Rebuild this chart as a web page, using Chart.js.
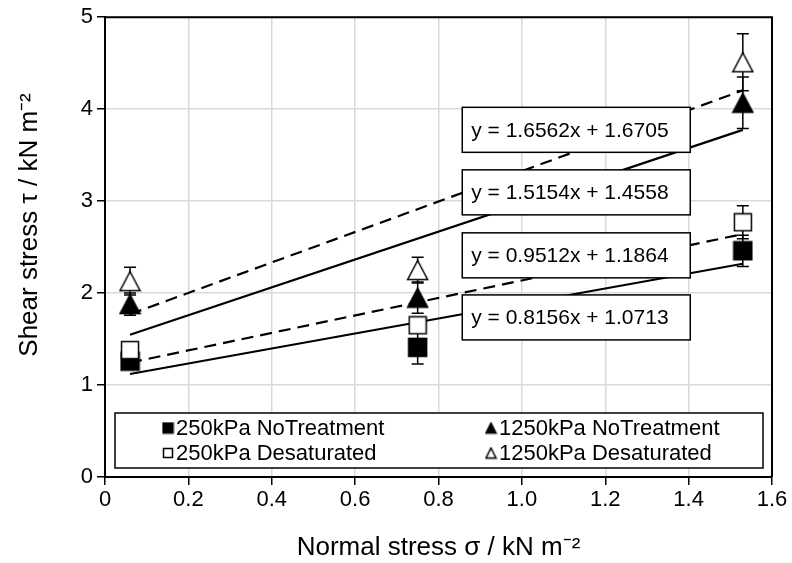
<!DOCTYPE html>
<html>
<head>
<meta charset="utf-8">
<script src="https://cdn.jsdelivr.net/npm/chart.js@4.4.1/dist/chart.umd.min.js"></script>
<style>
  html, body { margin:0; padding:0; background:#fff; }
  #wrap { width:792px; height:563px; }
</style>
</head>
<body>
<div id="wrap"><canvas id="chart" width="792" height="563"></canvas></div>
<script>
// valores (tensão normal x tensão de corte)
const normalStress = [0.06, 0.75, 1.53];

const nt250 = [1.26, 1.41, 2.46];
const nt250Err = [0.05, 0.18, 0.17];
const nt1250 = [1.88, 1.95, 4.07];
const nt1250Err = [0.12, 0.17, 0.28];
const de250 = [1.38, 1.65, 2.77];
const de250Err = [0.06, 0.08, 0.18];
const de1250 = [2.13, 2.25, 4.51];
const de1250Err = [0.15, 0.14, 0.31];

// linhas de tendência (y = a x + b)
const trendSlopes = [1.6562, 1.5154, 0.9512, 0.8156];
const trendIntercepts = [1.6705, 1.4558, 1.1864, 1.0713];
const trendLabels = ["y = 1.6562x + 1.6705", "y = 1.5154x + 1.4558", "y = 0.9512x + 1.1864", "y = 0.8156x + 1.0713"];

const seriesNames = ["250kPa NoTreatment", "1250kPa NoTreatment", "250kPa Desaturated", "1250kPa Desaturated"];
const xTickLabels = ["0", "0.2", "0.4", "0.6", "0.8", "1.0", "1.2", "1.4", "1.6"];
const yTickLabels = ["0", "1", "2", "3", "4", "5"];
const xTitle = "Normal stress σ / kN m⁻²";
const yTitle = "Shear stress τ / kN m⁻²";

const FONT = "'Liberation Sans', Arial, sans-serif";

function marker(shape, filled, w, h){
  const c = document.createElement("canvas");
  c.width = w + 3; c.height = h + 3;
  const g = c.getContext("2d");
  g.lineWidth = 1.5;
  g.strokeStyle = "#000";
  g.fillStyle = filled ? "#000" : "#fff";
  g.beginPath();
  if (shape === "tri"){
    g.moveTo(1.5 + w/2, 1.5);
    g.lineTo(1.5 + w, 1.5 + h);
    g.lineTo(1.5, 1.5 + h);
    g.closePath();
  } else {
    g.rect(1.5, 1.5, w, h);
  }
  g.fill(); g.stroke();
  return c;
}

const mk = {
  sqF: marker("sq", true, 18, 18),
  sqO: marker("sq", false, 17, 17),
  triF: marker("tri", true, 20, 19),
  triO: marker("tri", false, 20, 19)
};
const mkSmall = {
  sqF: marker("sq", true, 10, 10),
  sqO: marker("sq", false, 9, 9),
  triF: marker("tri", true, 10, 10),
  triO: marker("tri", false, 10, 10)
};

const pts = (ys)=> normalStress.map((x,i)=>({ x, y: ys[i] }));
const trend = (k)=> [normalStress[0], normalStress[normalStress.length-1]].map(x=>({ x, y: trendSlopes[k]*x + trendIntercepts[k] }));

const scatter = [
  { ys: nt250, err: nt250Err, style: mk.sqF, small: mkSmall.sqF, order: 3 },
  { ys: nt1250, err: nt1250Err, style: mk.triF, small: mkSmall.triF, order: 1 },
  { ys: de250, err: de250Err, style: mk.sqO, small: mkSmall.sqO, order: 2 },
  { ys: de1250, err: de1250Err, style: mk.triO, small: mkSmall.triO, order: 0 }
];

const datasets = [];
// tracejado = dessaturado, cheio = sem tratamento
[0,1,2,3].forEach(k=>{
  datasets.push({
    type: "line", label: "trend" + k, data: trend(k),
    borderColor: "#000", borderWidth: 2.2,
    borderDash: (k === 0 || k === 2) ? [12, 7] : [],
    pointRadius: 0, fill: false, order: 10
  });
});
scatter.forEach((s,i)=>{
  datasets.push({
    type: "scatter", label: seriesNames[i], data: pts(s.ys),
    pointStyle: s.style, pointRadius: 10, order: s.order
  });
});

const extras = {
  id: "extras",
  beforeDatasetsDraw(chart){
    const { ctx, chartArea: a, scales: { x, y } } = chart;
    ctx.save();
    ctx.strokeStyle = "#000";
    ctx.lineWidth = 2;
    ctx.beginPath();
    ctx.moveTo(a.left, a.top); ctx.lineTo(a.right, a.top); ctx.lineTo(a.right, a.bottom);
    ctx.stroke();
    // barras de erro
    ctx.lineWidth = 1.5;
    scatter.forEach(s=>{
      normalStress.forEach((xv,i)=>{
        const px = x.getPixelForValue(xv);
        const y1 = y.getPixelForValue(s.ys[i] + s.err[i]);
        const y2 = y.getPixelForValue(s.ys[i] - s.err[i]);
        ctx.beginPath();
        ctx.moveTo(px, y1); ctx.lineTo(px, y2);
        ctx.moveTo(px-6, y1); ctx.lineTo(px+6, y1);
        ctx.moveTo(px-6, y2); ctx.lineTo(px+6, y2);
        ctx.stroke();
      });
    });
    ctx.restore();
  },
  afterDatasetsDraw(chart){
    const { ctx, scales: { x, y } } = chart;
    ctx.save();
    // caixas das equações
    const left = x.getPixelForValue(0.857), w = 228, h = 45;
    const tops = [4.02, 3.34, 2.655, 1.98];
    ctx.font = "21px " + FONT;
    ctx.textBaseline = "middle";
    trendLabels.forEach((t,k)=>{
      const top = y.getPixelForValue(tops[k]);
      ctx.fillStyle = "#fff";
      ctx.fillRect(left, top, w, h);
      ctx.strokeStyle = "#000"; ctx.lineWidth = 1.5;
      ctx.strokeRect(left, top, w, h);
      ctx.fillStyle = "#000";
      ctx.fillText(t, left + 9, top + h/2 + 1);
    });
    // legenda
    const lx = 115, ly = 413, lw = 648, lh = 55;
    ctx.fillStyle = "#fff";
    ctx.fillRect(lx, ly, lw, lh);
    ctx.strokeStyle = "#000"; ctx.lineWidth = 1.5;
    ctx.strokeRect(lx, ly, lw, lh);
    ctx.font = "22px " + FONT;
    const cols = [168, 491], rows = [428, 453];
    scatter.forEach((s,i)=>{
      const cx = cols[i % 2], cy = rows[Math.floor(i / 2)];
      ctx.drawImage(s.small, cx - s.small.width/2, cy - s.small.height/2);
      ctx.fillStyle = "#000";
      ctx.fillText(seriesNames[i], cx + 8, cy + 1);
    });
    // título do eixo y (um pouco acima do centro, como no original)
    ctx.translate(30, 225);
    ctx.rotate(-Math.PI/2);
    ctx.font = "26px " + FONT;
    ctx.textAlign = "center";
    ctx.fillText(yTitle, 0, 0);
    ctx.restore();
  }
};

new Chart(document.getElementById("chart"), {
  data: { datasets },
  options: {
    responsive: false,
    animation: false,
    devicePixelRatio: 1,
    layout: { padding: { top: 17, right: 20, left: 0, bottom: 0 } },
    plugins: { legend: { display: false }, tooltip: { enabled: false } },
    scales: {
      x: {
        type: "linear", min: 0, max: 1.6,
        ticks: { stepSize: 0.2, color: "#000", font: { size: 22, family: FONT }, padding: 2,
                 callback: (v, i)=> xTickLabels[i] },
        grid: { color: "#d9d9d9", lineWidth: 1.5, tickColor: "#000", tickLength: 8, tickWidth: 1.5 },
        border: { color: "#000", width: 2 },
        title: { display: true, text: xTitle, color: "#000",
                 font: { size: 26, family: FONT }, padding: { top: 0, bottom: 0 } },
        afterFit(scale){ scale.height = 86; }
      },
      y: {
        type: "linear", min: 0, max: 5,
        ticks: { stepSize: 1, color: "#000", font: { size: 22, family: FONT }, padding: 4,
                 callback: (v, i)=> yTickLabels[i] },
        grid: { color: "#d9d9d9", lineWidth: 1.5, tickColor: "#000", tickLength: 8, tickWidth: 1.5 },
        border: { color: "#000", width: 2 },
        afterFit(scale){ scale.width = 105; }
      }
    }
  },
  plugins: [extras]
});
</script>
</body>
</html>
